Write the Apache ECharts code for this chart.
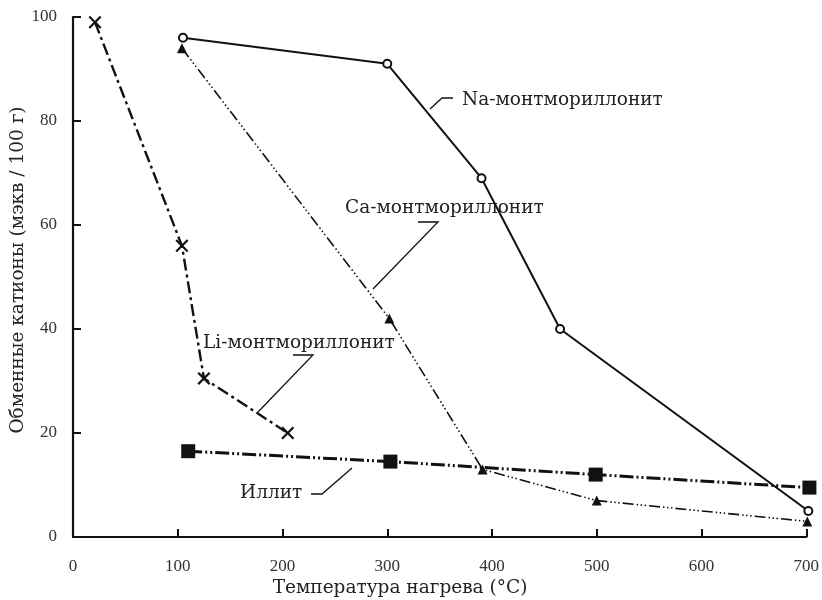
<!DOCTYPE html>
<html><head><meta charset="utf-8">
<script src="https://cdn.jsdelivr.net/npm/echarts@6/dist/echarts.min.js"></script>
<style>html,body{margin:0;padding:0;background:#fff}#c{width:822px;height:600px}</style>
</head><body><div id="c"></div>
<script>
var xTicks = [0, 100, 200, 300, 400, 500, 600, 700];
var yTicks = [0, 20, 40, 60, 80, 100];
var naData = [[105, 96], [300, 91], [390, 69], [465, 40], [702, 5]];
var caData = [[104, 94], [302, 42], [391, 13], [500, 7], [701, 3]];
var liData = [[21, 99], [104, 56], [125, 30.5], [205, 20]];
var illiteData = [[110, 16.5], [303, 14.5], [499, 12], [703, 9.5]];
var seriesNames = ['Na-монтмориллонит', 'Ca-монтмориллонит', 'Li-монтмориллонит', 'Иллит'];
var xName = 'Температура нагрева (°C)';
var yName = 'Обменные катионы (мэкв / 100 г)';

var FONT = '"DejaVu Serif", "Liberation Serif", serif';
var TFONT = '"Liberation Serif", serif';
var INK = '#111';
var xSym = 'path://M0,1.2L1.2,0L5,3.8L8.8,0L10,1.2L6.2,5L10,8.8L8.8,10L5,6.2L1.2,10L0,8.8L3.8,5Z';

var chart = echarts.init(document.getElementById('c'), null, {renderer: 'canvas'});
var labelStyle = {fontFamily: FONT, fontSize: 18.5, fill: '#222', verticalAlign: 'middle'};
var lead = {stroke: INK, lineWidth: 1.3, fill: 'none'};
chart.setOption({
  animation: false,
  backgroundColor: '#fff',
  grid: {left: 73, right: 11, top: 17, bottom: 63, containLabel: false},
  xAxis: {
    type: 'value', min: xTicks[0], max: xTicks[xTicks.length - 1], interval: 100,
    axisLine: {show: true, lineStyle: {color: INK, width: 2.2}},
    axisTick: {show: true, inside: true, length: 8, lineStyle: {color: INK, width: 2}},
    splitLine: {show: false},
    axisLabel: {margin: 21, fontFamily: TFONT, fontSize: 17, color: '#333'}
  },
  yAxis: {
    type: 'value', min: yTicks[0], max: yTicks[yTicks.length - 1], interval: 20,
    axisLine: {show: true, lineStyle: {color: INK, width: 2.2}},
    axisTick: {show: true, inside: true, length: 8, lineStyle: {color: INK, width: 2}},
    splitLine: {show: false},
    axisLabel: {margin: 16, fontFamily: TFONT, fontSize: 17, color: '#333'}
  },
  series: [
    {name: seriesNames[0], type: 'line', data: naData, symbol: 'emptyCircle', symbolSize: 8, clip: false,
     lineStyle: {color: INK, width: 2}, itemStyle: {color: INK, borderWidth: 2}, z: 5},
    {name: seriesNames[1], type: 'line', data: caData, symbol: 'triangle', symbolSize: 10, clip: false,
     lineStyle: {color: INK, width: 1.6, type: [11, 3, 1.5, 2.5, 1.5, 2.5, 1.5, 3]}, itemStyle: {color: INK}, z: 4},
    {name: seriesNames[2], type: 'line', data: liData, symbol: xSym, symbolSize: 13, clip: false,
     lineStyle: {color: INK, width: 2.4, type: [12, 4, 3, 4]}, itemStyle: {color: INK}, z: 4},
    {name: seriesNames[3], type: 'line', data: illiteData, symbol: 'rect', symbolSize: 14, clip: false,
     lineStyle: {color: INK, width: 3, type: [14, 3, 2, 3, 2, 3]}, itemStyle: {color: INK}, z: 4}
  ],
  graphic: [
    {type: 'text', x: 462, y: 100, style: Object.assign({text: seriesNames[0]}, labelStyle)},
    {type: 'polyline', shape: {points: [[430, 109], [442, 98], [453, 98]]}, style: lead},
    {type: 'text', x: 345, y: 208, style: Object.assign({text: seriesNames[1]}, labelStyle)},
    {type: 'polyline', shape: {points: [[418, 222], [438, 222], [373, 289]]}, style: lead},
    {type: 'text', x: 203, y: 343, style: Object.assign({text: seriesNames[2]}, labelStyle)},
    {type: 'polyline', shape: {points: [[293, 355], [313, 355], [258, 412]]}, style: lead},
    {type: 'text', x: 240, y: 493, style: Object.assign({text: seriesNames[3]}, labelStyle)},
    {type: 'polyline', shape: {points: [[311, 494], [322, 494], [352, 468]]}, style: lead},
    {type: 'text', x: 400, y: 588, style: {text: xName, fontFamily: FONT, fontSize: 18.5, fill: '#222', align: 'center', verticalAlign: 'middle'}},
    {type: 'text', x: 18, y: 270, rotation: Math.PI / 2, style: {text: yName, fontFamily: FONT, fontSize: 18.5, fill: '#222', align: 'center', verticalAlign: 'middle'}}
  ]
});
</script></body></html>
